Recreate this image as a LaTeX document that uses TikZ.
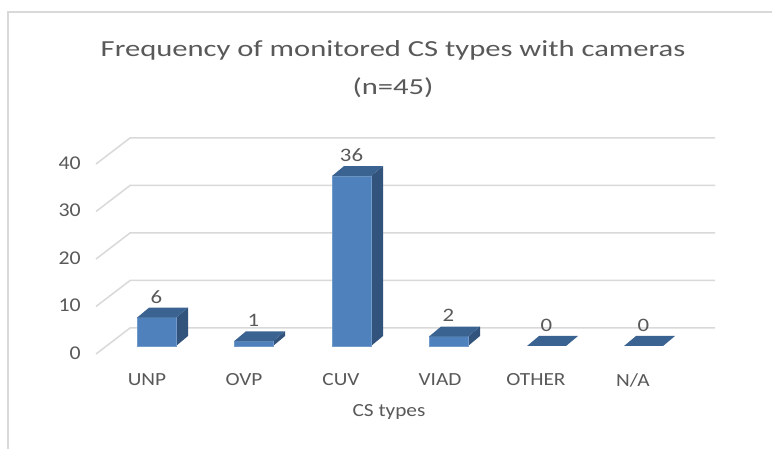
\documentclass[tikz,border=0pt]{standalone}
\usepackage{fontspec}
\setmainfont{Carlito}
\newfontfamily\titlefont[FakeStretch=1.33]{Carlito}
\newfontfamily\tickfont[FakeStretch=1.12]{Carlito}
\newfontfamily\labelfont[FakeStretch=1.15]{Carlito}
\newfontfamily\valfont[FakeStretch=1.2]{Carlito}
\definecolor{txt}{HTML}{595959}
\definecolor{gridc}{HTML}{D9D9D9}
\definecolor{barfront}{HTML}{4F81BD}
\definecolor{barside}{HTML}{32537C}
\definecolor{bartop}{HTML}{3B6392}
\begin{document}
\begin{tikzpicture}[x=1pt,y=-1pt,
  gridline/.style={draw=gridc,line width=1.5pt},
  frameline/.style={draw=gridc,line width=2pt},
  ticklabel/.style={text=txt,font=\tickfont\fontsize{19.5}{22}\selectfont,inner sep=0pt},
  catlabel/.style={text=txt,font=\labelfont\fontsize{18.5}{22}\selectfont,inner sep=0pt},
  vallabel/.style={text=txt,font=\valfont\fontsize{19}{22}\selectfont,inner sep=0pt},
  titlelabel/.style={text=txt,font=\titlefont\fontsize{23}{28}\selectfont,inner sep=0pt},
  front/.style={fill=barfront,draw=barfront!80!white,line width=0.4pt},
  side/.style={fill=barside},
  topface/.style={fill=bartop}]
\useasboundingbox (0,0) rectangle (772,449);
\fill[white] (0,0) rectangle (772,449);
\draw[frameline] (7.5,449) -- (7.5,12) -- (772,12);
% title
\node[titlelabel] (title1) at (393,50) {Frequency of monitored CS types with cameras};
\node[titlelabel] (title2) at (393,88) {(n=45)};
% grid
\foreach \v/\y in {0/328,10/280.5,20/233,30/185.5,40/138}{
  \draw[gridline] (96,\y+26) -- (130,\y) -- (715,\y);
  \node[ticklabel,anchor=east] (tick\v) at (81,\y+25) {\v};
}
% bars
\foreach \n/\x/\v in {unp/137/6,ovp/234/1,cuv/332/36,viad/429/2,other/527/0,na/624/0}{
  \pgfmathsetmacro{\t}{346-4.72*\v}
  \ifnum\v>0
    \fill[side] (\x+39,346) -- (\x+51,336) -- (\x+51,\t-10) -- (\x+39,\t) -- cycle;
    \filldraw[front] (\x,\t) rectangle (\x+39,346);
  \fi
  \fill[topface] (\x,\t) -- (\x+12,\t-10) -- (\x+51,\t-10) -- (\x+39,\t) -- cycle;
  \node[vallabel] (val\n) at (\x+19.5,\t-21) {\v};
}
% categories
\node[catlabel] (cunp) at (147,380) {UNP};
\node[catlabel] (covp) at (244,380) {OVP};
\node[catlabel] (ccuv) at (341,380) {CUV};
\node[catlabel] (cviad) at (440,380) {VIAD};
\node[catlabel] (cother) at (536,380) {OTHER};
\node[catlabel] (cna) at (633,380) {N/A};
\node[catlabel] (axistitle) at (389,412) {CS types};
\end{tikzpicture}
\end{document}
